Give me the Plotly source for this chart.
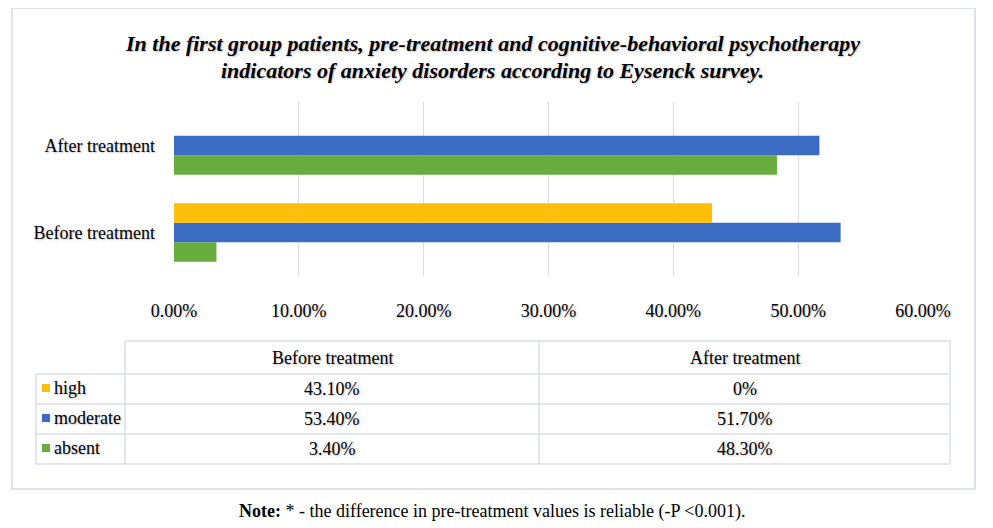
import plotly.graph_objects as go

# ---- data ----
categories = ["Before treatment", "After treatment"]
series_names = ["high", "moderate", "absent"]
high_vals = [0.431, 0.0]
moderate_vals = [0.534, 0.517]
absent_vals = [0.034, 0.483]
table_high = ["43.10%", "0%"]
table_moderate = ["53.40%", "51.70%"]
table_absent = ["3.40%", "48.30%"]
x_ticks = [0, 0.1, 0.2, 0.3, 0.4, 0.5, 0.6]
title_lines = ["In the first group patients, pre-treatment and cognitive-behavioral psychotherapy",
               "indicators of anxiety disorders according to Eysenck survey."]

colors = {"high": "#FDBF0A", "moderate": "#3C6BC4", "absent": "#69AC3E"}

OFF = 8  # page body margin
W, H = 993 - OFF, 528 - OFF
def px(x):
    return (x - OFF) / W
def py(y):
    return 1 - (y - OFF) / H

FONT = "Liberation Serif, Times New Roman, serif"
shadow = "1px 1px 2px rgba(0,0,0,0.25)"

fig = go.Figure()
# plotly draws first trace lowest within each group -> add in reverse order
for name, vals in [("absent", absent_vals), ("moderate", moderate_vals), ("high", high_vals)]:
    fig.add_trace(go.Bar(
        y=categories, x=vals, name=name, orientation="h",
        marker=dict(color=colors[name], line=dict(width=0)),
        showlegend=False, hoverinfo="x+name",
    ))

shapes = []
annotations = []

# outer frame
shapes.append(dict(type="rect", xref="paper", yref="paper",
                   x0=px(12), x1=px(975), y0=py(489), y1=py(8),
                   line=dict(color="#DFE3E8", width=2), fillcolor="rgba(0,0,0,0)"))

# table geometry
tbl_left, col1, col2, tbl_right = 36, 125, 539, 950
hdr_top, row_lines = 341, [374, 404, 434, 464]
lc = dict(color="#DADEE5", width=1.5)
shapes.append(dict(type="line", xref="paper", yref="paper",
                   x0=px(col1), x1=px(tbl_right), y0=py(hdr_top), y1=py(hdr_top), line=lc))
for yl in row_lines:
    shapes.append(dict(type="line", xref="paper", yref="paper",
                       x0=px(tbl_left), x1=px(tbl_right), y0=py(yl), y1=py(yl), line=lc))
shapes.append(dict(type="line", xref="paper", yref="paper",
                   x0=px(tbl_left), x1=px(tbl_left), y0=py(row_lines[0]), y1=py(row_lines[-1]), line=lc))
for xl in [col1, col2, tbl_right]:
    shapes.append(dict(type="line", xref="paper", yref="paper",
                       x0=px(xl), x1=px(xl), y0=py(hdr_top), y1=py(row_lines[-1]), line=lc))

tfont = dict(family=FONT, size=18, color="#000000", shadow=shadow)
col_centers = [(col1 + col2) / 2, (col2 + tbl_right) / 2]
hdr_c = (hdr_top + row_lines[0]) / 2
for c, cx in zip(categories, col_centers):
    annotations.append(dict(text=c, x=px(cx), y=py(hdr_c), xref="paper", yref="paper",
                            showarrow=False, font=dict(tfont), xanchor="center", yanchor="middle"))

rows = [("high", table_high), ("moderate", table_moderate), ("absent", table_absent)]
for i, (name, vals) in enumerate(rows):
    rc = (row_lines[i] + row_lines[i + 1]) / 2
    shapes.append(dict(type="rect", xref="paper", yref="paper",
                       x0=px(42), x1=px(50), y0=py(rc + 3), y1=py(rc - 5),
                       line=dict(width=0), fillcolor=colors[name]))
    annotations.append(dict(text=name, x=px(52), y=py(rc - 1), xref="paper", yref="paper",
                            showarrow=False, font=dict(tfont), xanchor="left", yanchor="middle"))
    for v, cx in zip(vals, col_centers):
        annotations.append(dict(text=v, x=px(cx), y=py(rc), xref="paper", yref="paper",
                                showarrow=False, font=dict(tfont), xanchor="center", yanchor="middle"))

# title (two lines)
for line_text, yc in zip(title_lines, [44, 70]):
    annotations.append(dict(
        text="<b><i>" + line_text + "</i></b>",
        x=px(492), y=py(yc), xref="paper", yref="paper", showarrow=False,
        font=dict(family=FONT, size=22, color="#000000", shadow=shadow),
        xanchor="center", yanchor="middle", align="center"))

# note
annotations.append(dict(
    text="<b>Note:</b> * - the difference in pre-treatment values is reliable (-P &lt;0.001).",
    x=px(492), y=py(511), xref="paper", yref="paper", showarrow=False,
    font=dict(family=FONT, size=18, color="#000000"),
    xanchor="center", yanchor="middle"))

fig.update_layout(
    width=W, height=H,
    margin=dict(l=0, r=0, t=0, b=0, autoexpand=False),
    paper_bgcolor="white", plot_bgcolor="white",
    barmode="group", bargap=0.33, bargroupgap=0,
    xaxis=dict(domain=[px(174), px(923)], range=[0, 0.6], tickvals=x_ticks, tickformat=".2%",
               showgrid=True, gridcolor="#D9DDE3", gridwidth=1, zeroline=False,
               showline=False, ticks="", ticklabelstandoff=22, automargin=False,
               tickfont=dict(family=FONT, size=18, color="#000000", shadow=shadow),
               fixedrange=True),
    yaxis=dict(domain=[py(276), py(102)], range=[-0.5, 1.5], categoryorder="array",
               categoryarray=categories, showgrid=False, zeroline=False, showline=False,
               ticks="", ticklabelstandoff=18, automargin=False,
               tickfont=dict(family=FONT, size=18, color="#000000", shadow=shadow),
               fixedrange=True),
    shapes=shapes, annotations=annotations,
)

fig.write_html("out.html")
